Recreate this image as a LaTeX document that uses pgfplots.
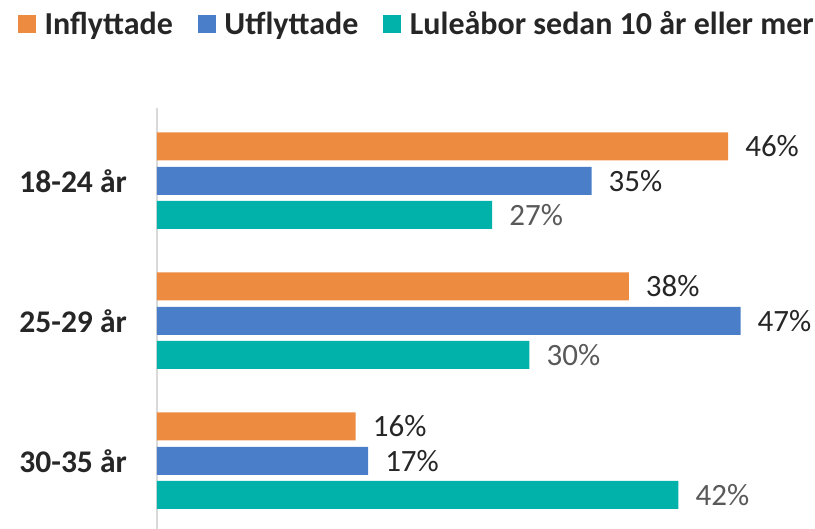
\documentclass[border=0pt]{standalone}
\usepackage{pgfplots}
\pgfplotsset{compat=1.18}
\usepackage{fontspec}
\setmainfont{Carlito}
\definecolor{cOr}{HTML}{ED8B41}
\definecolor{cBl}{HTML}{4A7EC8}
\definecolor{cTe}{HTML}{00B2A9}
\definecolor{lblDark}{HTML}{262626}
\definecolor{lblGray}{HTML}{595959}
\newcommand{\bigf}{\fontsize{31}{36}\selectfont}
\newcommand{\legf}{\fontsize{32}{36}\selectfont}
\newcommand{\catf}{\fontsize{31.5}{36}\selectfont}
\begin{document}
\begin{tikzpicture}[x=1pt,y=1pt]
\useasboundingbox (0,0) rectangle (815,529);
\begin{axis}[
 at={(157pt,0pt)}, anchor=south west,
 scale only axis, width=658pt, height=421pt,
 xbar, bar width=28pt,
 xmin=0, xmax=53,
 ymin=-0.4857, ymax=2.5214,
 axis x line=none, axis y line=left,
 y axis line style={draw=black!15, line width=1.2pt, -},
 ytick={0,1,2}, yticklabels={30-35 år,25-29 år,18-24 år},
 major tick length=0pt,
 /pgf/number format/assume math mode=true,
 yticklabel style={font=\catf\bfseries, text=lblDark, inner sep=0pt, xshift=-30pt},
 nodes near coords={\pgfmathprintnumber[assume math mode=true]{\pgfplotspointmeta}\%},
 nodes near coords style={font=\bigf, anchor=west, inner sep=0pt, xshift=17pt},
 clip=false,
 legend columns=3,
 legend image code/.code={\fill[#1] (0pt,-9pt) rectangle (18pt,9pt);},
 legend style={at={(-0.2112,1.1995)}, anchor=west, draw=none, fill=none,
   inner sep=0pt, outer sep=0pt,
   font=\legf\bfseries, text=lblDark,
   nodes={inner sep=0pt},
   /tikz/every odd column/.append style={column sep=8.5pt},
   /tikz/every even column/.append style={column sep=25pt}},
]
\addplot[fill=cOr, draw=none, bar shift=34.5pt, every node near coord/.append style={text=lblDark}]
 coordinates {(46,2) (38,1) (16,0)};
\addplot[fill=cBl, draw=none, bar shift=0pt, every node near coord/.append style={text=lblDark}]
 coordinates {(35,2) (47,1) (17,0)};
\addplot[fill=cTe, draw=none, bar shift=-34pt, every node near coord/.append style={text=lblGray}]
 coordinates {(27,2) (30,1) (42,0)};
\legend{Inflyttade, Utflyttade, Luleåbor sedan 10 år eller mer}
\end{axis}
\end{tikzpicture}
\end{document}
